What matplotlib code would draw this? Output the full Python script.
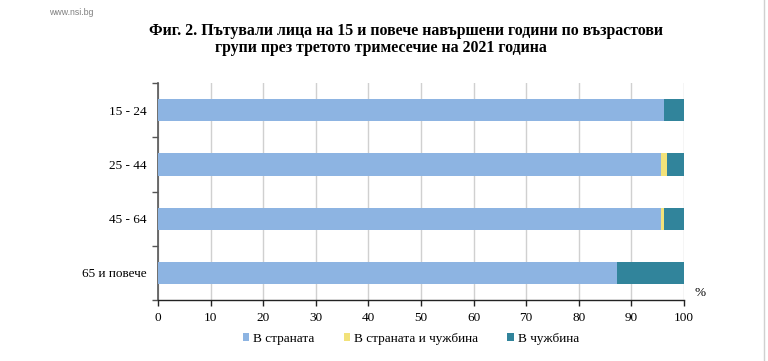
import matplotlib.pyplot as plt
import numpy as np
from matplotlib.lines import Line2D
from matplotlib.patches import Patch

# Data (percent)
groups = ['15 - 24', '25 - 44', '45 - 64', '65 и повече']
domestic = [96.2, 95.7, 95.6, 87.3]
both = [0.0, 1.0, 0.6, 0.0]
abroad = [3.8, 3.3, 3.8, 12.7]
series_names = ['В страната', 'В страната и чужбина', 'В чужбина']
colors = ['#8DB4E2', '#F2E27A', '#31849B']
xticks = list(range(0, 101, 10))

serif = ['Liberation Serif', 'DejaVu Serif']
plt.rcParams['font.family'] = serif

fig = plt.figure(figsize=(7.68, 3.61), dpi=100)
ax = fig.add_axes([0.2057, 0.169, 0.685, 0.601])

y = np.arange(len(groups))
h = 0.41
left = np.zeros(len(groups))
for vals, col in zip([domestic, both, abroad], colors):
    ax.barh(y, vals, height=h, left=left, color=col, zorder=3)
    left = left + np.array(vals)

ax.set_xlim(0, 100)
ax.set_ylim(len(groups) - 0.5, -0.5)
ax.set_xticks(xticks)
ax.set_xticklabels([str(t) for t in xticks], fontsize=9.5)
ax.set_yticks(y)
ax.set_yticklabels(groups, fontsize=9.5)
ax.set_yticks(np.arange(-0.5, len(groups), 1.0), minor=True)
ax.tick_params(axis='y', which='major', length=0, pad=8)
ax.tick_params(axis='y', which='minor', length=4, width=1, color='#555555', direction='out')
ax.tick_params(axis='x', length=4, width=1, color='#222222', direction='out', pad=5)
ax.grid(axis='x', color='#D0D0D0', linewidth=1, zorder=0)

for s in ['top', 'right']:
    ax.spines[s].set_visible(False)
ax.spines['left'].set_color('#555555')
ax.spines['left'].set_linewidth(1.2)
ax.spines['bottom'].set_color('#222222')
ax.spines['bottom'].set_linewidth(1)

ax.text(1.02, 0.03, '%', transform=ax.transAxes, fontsize=9.5, ha='left', va='center')

handles = [Patch(facecolor=c, edgecolor='none') for c in colors]
fig.legend(handles, series_names, loc='center', bbox_to_anchor=(0.535, 0.062), ncol=3,
           frameon=False, fontsize=9.5, handlelength=0.5, handleheight=0.6,
           handletextpad=0.3, columnspacing=2.2)

fig.text(0.529, 0.913, 'Фиг. 2. Пътували лица на 15 и повече навършени години по възрастови',
         ha='center', va='center', fontsize=11.4, fontweight='bold')
fig.text(0.496, 0.868, 'групи през третото тримесечие на 2021 година',
         ha='center', va='center', fontsize=11.4, fontweight='bold')
fig.text(0.064, 0.965, 'www.nsi.bg', ha='left', va='center', fontsize=6.3,
         color='#808080', family=['Liberation Sans', 'DejaVu Sans'])

fig.add_artist(Line2D([0.995, 0.995], [0, 1], transform=fig.transFigure,
                      color='#D0D0D0', linewidth=1))

fig.savefig('out.png', dpi=100)
